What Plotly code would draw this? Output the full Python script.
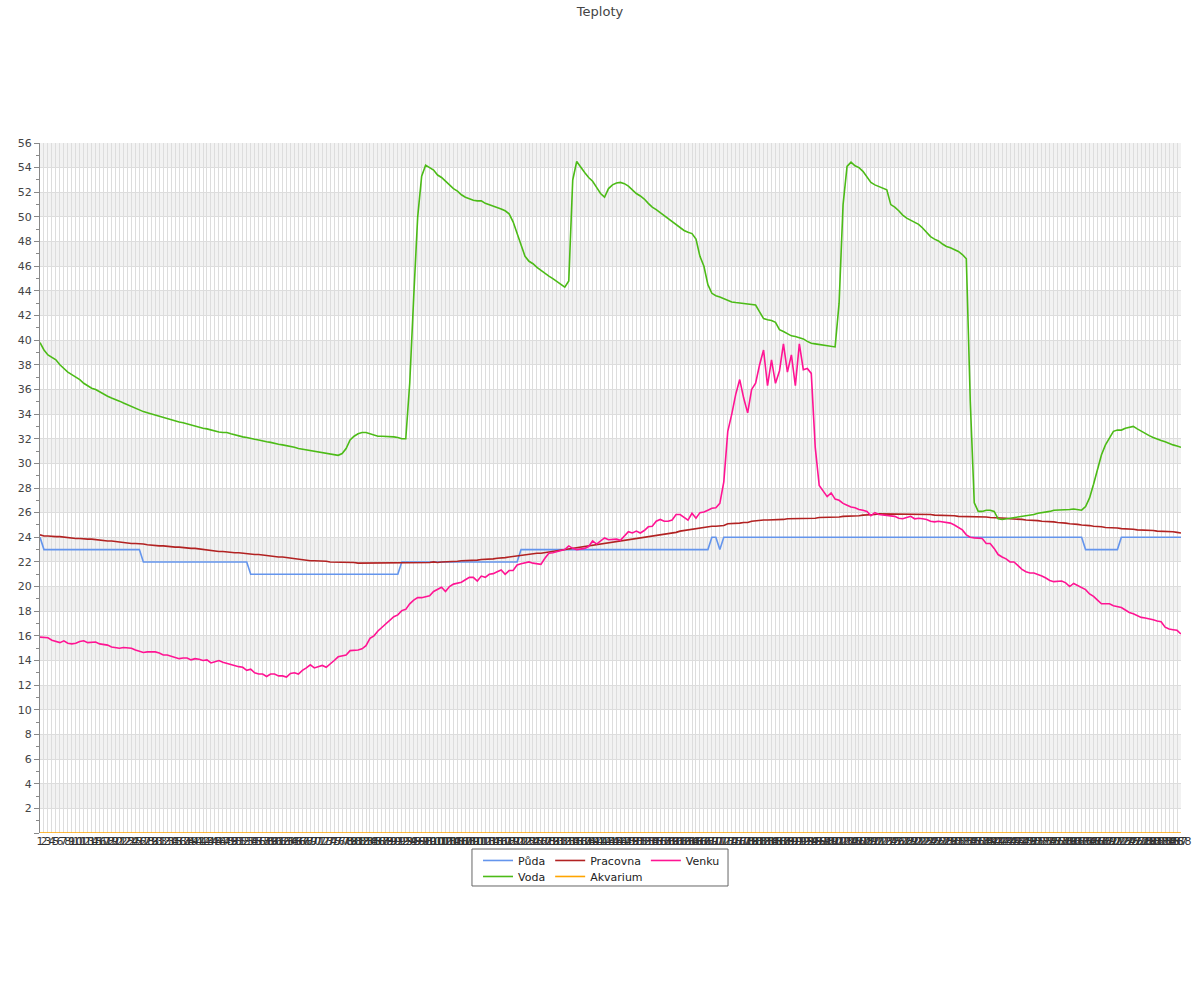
import plotly.graph_objects as go

# ---------------- data ----------------
N_POINTS = 288
CATEGORIES = [str(i) for i in range(1, N_POINTS + 1)]

PUDA = [
    24, 23, 23, 23, 23, 23, 23, 23, 23, 23,
    23, 23, 23, 23, 23, 23, 23, 23, 23, 23,
    23, 23, 23, 23, 23, 23, 22, 22, 22, 22,
    22, 22, 22, 22, 22, 22, 22, 22, 22, 22,
    22, 22, 22, 22, 22, 22, 22, 22, 22, 22,
    22, 22, 22, 21, 21, 21, 21, 21, 21, 21,
    21, 21, 21, 21, 21, 21, 21, 21, 21, 21,
    21, 21, 21, 21, 21, 21, 21, 21, 21, 21,
    21, 21, 21, 21, 21, 21, 21, 21, 21, 21,
    21, 22, 22, 22, 22, 22, 22, 22, 22, 22,
    22, 22, 22, 22, 22, 22, 22, 22, 22, 22,
    22, 22, 22, 22, 22, 22, 22, 22, 22, 22,
    22, 23, 23, 23, 23, 23, 23, 23, 23, 23,
    23, 23, 23, 23, 23, 23, 23, 23, 23, 23,
    23, 23, 23, 23, 23, 23, 23, 23, 23, 23,
    23, 23, 23, 23, 23, 23, 23, 23, 23, 23,
    23, 23, 23, 23, 23, 23, 23, 23, 23, 24,
    24, 23, 24, 24, 24, 24, 24, 24, 24, 24,
    24, 24, 24, 24, 24, 24, 24, 24, 24, 24,
    24, 24, 24, 24, 24, 24, 24, 24, 24, 24,
    24, 24, 24, 24, 24, 24, 24, 24, 24, 24,
    24, 24, 24, 24, 24, 24, 24, 24, 24, 24,
    24, 24, 24, 24, 24, 24, 24, 24, 24, 24,
    24, 24, 24, 24, 24, 24, 24, 24, 24, 24,
    24, 24, 24, 24, 24, 24, 24, 24, 24, 24,
    24, 24, 24, 24, 24, 24, 24, 24, 24, 24,
    24, 24, 24, 23, 23, 23, 23, 23, 23, 23,
    23, 23, 24, 24, 24, 24, 24, 24, 24, 24,
    24, 24, 24, 24, 24, 24, 24, 24,
]

PRACOVNA = [
    24.2, 24.1, 24.1, 24.05, 24.05, 24.05, 24.0, 24.0, 23.95, 23.9,
    23.9, 23.85, 23.85, 23.85, 23.8, 23.8, 23.75, 23.7, 23.7, 23.65,
    23.6, 23.6, 23.55, 23.5, 23.5, 23.5, 23.45, 23.4, 23.35, 23.3,
    23.3, 23.3, 23.25, 23.2, 23.2, 23.2, 23.15, 23.15, 23.1, 23.1,
    23.05, 23.0, 23.0, 22.95, 22.9, 22.85, 22.85, 22.8, 22.8, 22.75,
    22.75, 22.7, 22.7, 22.65, 22.6, 22.6, 22.55, 22.5, 22.45, 22.4,
    22.4, 22.4, 22.35, 22.3, 22.25, 22.2, 22.2, 22.15, 22.1, 22.1,
    22.1, 22.05, 22.05, 22.0, 22.0, 22.0, 22.0, 21.95, 21.95, 21.95,
    21.9, 21.9, 21.9, 21.9, 21.9, 21.9, 21.9, 21.9, 21.9, 21.9,
    21.9, 21.9, 21.9, 21.9, 21.9, 21.9, 21.9, 21.95, 21.95, 22.0,
    21.95, 22.0, 22.0, 22.0, 22.05, 22.05, 22.1, 22.1, 22.15, 22.15,
    22.15, 22.2, 22.2, 22.2, 22.25, 22.3, 22.3, 22.35, 22.4, 22.45,
    22.45, 22.5, 22.55, 22.6, 22.65, 22.7, 22.7, 22.75, 22.8, 22.85,
    22.9, 22.95, 23.0, 23.05, 23.1, 23.15, 23.2, 23.25, 23.3, 23.35,
    23.4, 23.45, 23.5, 23.55, 23.6, 23.65, 23.7, 23.75, 23.8, 23.85,
    23.9, 23.95, 24.0, 24.05, 24.1, 24.15, 24.2, 24.25, 24.3, 24.35,
    24.4, 24.5, 24.55, 24.6, 24.7, 24.75, 24.8, 24.85, 24.85, 24.9,
    24.9, 24.95, 24.95, 25.1, 25.1, 25.1, 25.15, 25.2, 25.2, 25.3,
    25.35, 25.35, 25.4, 25.4, 25.4, 25.4, 25.45, 25.45, 25.5, 25.5,
    25.5, 25.5, 25.5, 25.5, 25.55, 25.55, 25.6, 25.6, 25.6, 25.65,
    25.65, 25.65, 25.7, 25.7, 25.7, 25.75, 25.75, 25.8, 25.8, 25.85,
    25.85, 25.9, 25.9, 25.9, 25.9, 25.9, 25.9, 25.9, 25.9, 25.9,
    25.9, 25.9, 25.85, 25.85, 25.85, 25.8, 25.8, 25.8, 25.75, 25.75,
    25.75, 25.7, 25.7, 25.7, 25.7, 25.7, 25.65, 25.65, 25.65, 25.6,
    25.6, 25.6, 25.55, 25.55, 25.5, 25.5, 25.45, 25.45, 25.4, 25.4,
    25.35, 25.35, 25.3, 25.3, 25.3, 25.25, 25.2, 25.2, 25.15, 25.1,
    25.1, 25.05, 25.0, 25.0, 24.95, 24.9, 24.9, 24.85, 24.8, 24.8,
    24.75, 24.75, 24.7, 24.7, 24.65, 24.65, 24.6, 24.6, 24.55, 24.55,
    24.55, 24.5, 24.5, 24.5, 24.45, 24.45, 24.4, 24.35,
]

VENKU = [
    15.9, 15.9, 15.85, 15.65, 15.55, 15.45, 15.6, 15.4, 15.35, 15.4,
    15.55, 15.6, 15.45, 15.5, 15.5, 15.35, 15.3, 15.25, 15.1, 15.05,
    15.0, 15.05, 15.0, 15.0, 14.85, 14.75, 14.65, 14.7, 14.7, 14.7,
    14.6, 14.45, 14.45, 14.35, 14.25, 14.15, 14.2, 14.2, 14.05, 14.15,
    14.1, 14.0, 14.05, 13.8, 13.9, 14.0, 13.85, 13.75, 13.65, 13.6,
    13.5, 13.45, 13.2, 13.3, 13.0, 12.9, 12.9, 12.7, 12.9, 12.9,
    12.75, 12.75, 12.65, 12.95, 13.0, 12.9, 13.2, 13.4, 13.65, 13.4,
    13.5, 13.6, 13.45, 13.7, 14.0, 14.3, 14.4, 14.45, 14.8, 14.8,
    14.85, 14.95, 15.2, 15.8, 16.0, 16.4, 16.7, 16.95, 17.3, 17.55,
    17.7, 18.05, 18.15, 18.6, 18.9, 19.1, 19.1, 19.2, 19.25, 19.6,
    19.8, 19.95, 19.6, 20.0, 20.2, 20.3, 20.35, 20.55, 20.75, 20.75,
    20.45, 20.85, 20.75, 21.0, 21.05, 21.2, 21.35, 21.0, 21.3, 21.3,
    21.75, 21.85, 21.9, 22.0, 21.9, 21.85, 21.8, 22.3, 22.7, 22.75,
    22.85, 22.9, 23.0, 23.3, 23.1, 23.0, 23.05, 23.1, 23.25, 23.7,
    23.45, 23.7, 23.95, 23.8, 23.8, 23.85, 23.75, 24.1, 24.45, 24.35,
    24.5, 24.35, 24.55, 24.85, 24.9, 25.3, 25.45, 25.3, 25.3, 25.4,
    25.85, 25.85, 25.65, 25.4, 25.95, 25.55, 26.0, 26.05, 26.2, 26.35,
    26.4, 26.75, 28.5, 32.6, 34.0, 35.6, 36.8, 35.3, 34.1, 36.0,
    36.5, 38.0, 39.2, 36.3, 38.4, 36.5, 37.5, 39.7, 37.4, 38.8,
    36.3, 39.7, 37.6, 37.7, 37.3, 31.3, 28.2, 27.75, 27.3, 27.6,
    27.1, 27.0, 26.75, 26.6, 26.45, 26.4, 26.25, 26.2, 26.1, 25.75,
    26.0, 25.85, 25.8, 25.8, 25.7, 25.7, 25.55, 25.5, 25.6, 25.7,
    25.5, 25.55, 25.5, 25.45, 25.3, 25.25, 25.3, 25.25, 25.2, 25.15,
    25.0, 24.8, 24.6, 24.2, 24.0, 23.95, 23.95, 23.9, 23.5, 23.5,
    23.1, 22.6, 22.4, 22.25, 22.0, 22.0, 21.7, 21.4, 21.2, 21.1,
    21.1, 21.0, 20.85, 20.7, 20.5, 20.4, 20.4, 20.45, 20.3, 20.0,
    20.25, 20.1, 19.95, 19.75, 19.4, 19.2, 18.9, 18.6, 18.6, 18.6,
    18.45, 18.35, 18.3, 18.1, 17.9, 17.8, 17.65, 17.5, 17.45, 17.4,
    17.3, 17.2, 17.15, 16.7, 16.55, 16.5, 16.45, 16.15,
]

VODA = [
    39.8, 39.2, 38.8, 38.6, 38.4, 38.0, 37.7, 37.4, 37.2, 37.0,
    36.8, 36.5, 36.3, 36.1, 36.0, 35.8, 35.6, 35.45, 35.3, 35.2,
    35.05, 34.9, 34.75, 34.6, 34.5, 34.35, 34.2, 34.1, 34.0, 33.9,
    33.8, 33.7, 33.6, 33.5, 33.45, 33.35, 33.3, 33.2, 33.1, 33.0,
    32.95, 32.85, 32.8, 32.7, 32.6, 32.55, 32.5, 32.5, 32.4, 32.3,
    32.2, 32.15, 32.1, 32.0, 31.95, 31.9, 31.8, 31.75, 31.7, 31.6,
    31.55, 31.5, 31.45, 31.4, 31.3, 31.2, 31.15, 31.1, 31.05, 31.0,
    30.95, 30.9, 30.85, 30.8, 30.7, 30.65, 30.8, 31.2, 31.9, 32.2,
    32.4, 32.5, 32.5, 32.4, 32.25, 32.2, 32.2, 32.2, 32.15, 32.15,
    32.1, 32.0, 32.0, 36.5, 43.5, 50.0, 53.3, 54.2, 54.0, 53.8,
    53.4, 53.2, 52.9, 52.6, 52.3, 52.1, 51.8, 51.6, 51.45, 51.35,
    51.3, 51.3, 51.1, 51.0, 50.9, 50.8, 50.65, 50.5, 50.25, 49.6,
    48.7, 47.7, 46.8, 46.4, 46.2, 45.9, 45.65, 45.45, 45.2, 45.0,
    44.75, 44.5, 44.3, 44.8, 53.0, 54.5, 54.0, 53.6, 53.2, 52.9,
    52.4, 51.9, 51.6, 52.3, 52.6, 52.75, 52.8, 52.7, 52.5, 52.2,
    51.9, 51.7, 51.45, 51.1, 50.8, 50.6, 50.35, 50.1, 49.85, 49.6,
    49.35, 49.1, 48.9, 48.75, 48.65, 48.2, 46.8, 46.0, 44.5, 43.8,
    43.6, 43.5, 43.35, 43.2, 43.1, 43.05, 43.0, 42.95, 42.9, 42.85,
    42.85, 42.3, 41.75, 41.65, 41.6, 41.45, 40.85, 40.7, 40.5, 40.35,
    40.3, 40.2, 40.1, 39.9, 39.75, 39.7, 39.65, 39.6, 39.55, 39.5,
    39.45, 43.0, 51.0, 54.1, 54.45, 54.15, 54.0, 53.7, 53.2, 52.8,
    52.6, 52.45, 52.35, 52.2, 51.0, 50.8, 50.5, 50.15, 49.9, 49.75,
    49.55, 49.4, 49.1, 48.75, 48.4, 48.2, 48.05, 47.8, 47.6, 47.5,
    47.35, 47.2, 46.95, 46.6, 35.0, 26.8, 26.1, 26.1, 26.2, 26.2,
    26.1, 25.5, 25.45, 25.5, 25.5, 25.55, 25.6, 25.65, 25.7, 25.8,
    25.85, 25.95, 26.0, 26.0, 26.1, 26.2, 26.2, 26.2, 26.25, 26.25,
    26.3, 26.25, 26.2, 26.5, 27.2, 28.3, 29.6, 30.7, 31.5, 32.1,
    32.6, 32.7, 32.7, 32.85, 32.95, 33.0, 32.8, 32.6, 32.4, 32.25,
    32.1, 31.95, 31.85, 31.75, 31.6, 31.5, 31.4, 31.3,
]

AKVARIUM = [
    0, 0, 0, 0, 0, 0, 0, 0, 0, 0, 0, 0, 0, 0, 0, 0, 0, 0, 0, 0, 0, 0, 0, 0,
    0, 0, 0, 0, 0, 0, 0, 0, 0, 0, 0, 0, 0, 0, 0, 0, 0, 0, 0, 0, 0, 0, 0, 0,
    0, 0, 0, 0, 0, 0, 0, 0, 0, 0, 0, 0, 0, 0, 0, 0, 0, 0, 0, 0, 0, 0, 0, 0,
    0, 0, 0, 0, 0, 0, 0, 0, 0, 0, 0, 0, 0, 0, 0, 0, 0, 0, 0, 0, 0, 0, 0, 0,
    0, 0, 0, 0, 0, 0, 0, 0, 0, 0, 0, 0, 0, 0, 0, 0, 0, 0, 0, 0, 0, 0, 0, 0,
    0, 0, 0, 0, 0, 0, 0, 0, 0, 0, 0, 0, 0, 0, 0, 0, 0, 0, 0, 0, 0, 0, 0, 0,
    0, 0, 0, 0, 0, 0, 0, 0, 0, 0, 0, 0, 0, 0, 0, 0, 0, 0, 0, 0, 0, 0, 0, 0,
    0, 0, 0, 0, 0, 0, 0, 0, 0, 0, 0, 0, 0, 0, 0, 0, 0, 0, 0, 0, 0, 0, 0, 0,
    0, 0, 0, 0, 0, 0, 0, 0, 0, 0, 0, 0, 0, 0, 0, 0, 0, 0, 0, 0, 0, 0, 0, 0,
    0, 0, 0, 0, 0, 0, 0, 0, 0, 0, 0, 0, 0, 0, 0, 0, 0, 0, 0, 0, 0, 0, 0, 0,
    0, 0, 0, 0, 0, 0, 0, 0, 0, 0, 0, 0, 0, 0, 0, 0, 0, 0, 0, 0, 0, 0, 0, 0,
    0, 0, 0, 0, 0, 0, 0, 0, 0, 0, 0, 0, 0, 0, 0, 0, 0, 0, 0, 0, 0, 0, 0, 0,
]

Y_TICKS = [0, 2, 4, 6, 8, 10, 12, 14, 16, 18, 20, 22, 24, 26, 28,
           30, 32, 34, 36, 38, 40, 42, 44, 46, 48, 50, 52, 54, 56]
Y_TICK_TEXT = ["" if v == 0 else str(v) for v in Y_TICKS]
Y_MINOR = [v + 1 for v in Y_TICKS[:-1]]

# ---------------- figure ----------------
FONT = "DejaVu Sans, Verdana, sans-serif"
fig = go.Figure()

series = [
    ("Půda", PUDA, "#6495ED", "legend"),
    ("Pracovna", PRACOVNA, "#B22222", "legend"),
    ("Venku", VENKU, "#FF1493", "legend"),
    ("Voda", VODA, "#4CBB17", "legend2"),
    ("Akvarium", AKVARIUM, "#FFA500", "legend2"),
]
for name, vals, color, leg in series:
    fig.add_trace(go.Scatter(
        x=CATEGORIES[:len(vals)], y=vals, name=name, mode="lines",
        line=dict(color=color, width=1.6), legend=leg,
        hoverinfo="x+y+name",
    ))

# alternating horizontal bands
shapes = []
for lo in Y_TICKS[1:-1:2]:
    shapes.append(dict(type="rect", xref="paper", yref="y", x0=0, x1=1,
                       y0=lo, y1=lo + 2, fillcolor="#f2f2f2",
                       line=dict(width=0), layer="below"))
# legend frame
shapes.append(dict(type="rect", xref="paper", yref="paper",
                   x0=0.3786, x1=0.603, y0=-0.0768, y1=-0.0232,
                   line=dict(color="#666666", width=1), fillcolor="rgba(0,0,0,0)",
                   layer="above"))

fig.update_layout(
    width=1200, height=1000,
    margin=dict(l=40, r=19, t=143, b=167, autoexpand=False),
    paper_bgcolor="white", plot_bgcolor="white",
    font=dict(family=FONT, size=11, color="#444444"),
    title=dict(text="Teploty", x=0.5, xanchor="center", y=0.989, yanchor="middle",
               yref="container", font=dict(family=FONT, size=13, color="#444444")),
    shapes=shapes,
    showlegend=True,
    legend=dict(orientation="h", x=0.3839, xanchor="left", y=-0.0188, yanchor="top",
                font=dict(family=FONT, size=11, color="#222222"),
                bgcolor="rgba(0,0,0,0)", borderwidth=0, tracegroupgap=0),
    legend2=dict(orientation="h", x=0.3839, xanchor="left", y=-0.042, yanchor="top",
                 font=dict(family=FONT, size=11, color="#222222"),
                 bgcolor="rgba(0,0,0,0)", borderwidth=0),
)

fig.update_xaxes(
    type="category", range=[0, N_POINTS - 1],
    tickmode="array", tickvals=CATEGORIES, ticktext=CATEGORIES,
    tickangle=0, ticks="", showgrid=True, gridcolor="#dddddd", gridwidth=1,
    showline=False, zeroline=False,
    tickfont=dict(family=FONT, size=11, color="#333333"),
)
fig.update_yaxes(
    range=[0, 56], tickmode="array", tickvals=Y_TICKS, ticktext=Y_TICK_TEXT,
    ticks="outside", ticklen=5, tickcolor="#888888",
    showgrid=True, gridcolor="#dddddd", gridwidth=1,
    showline=True, linecolor="#888888", linewidth=1, zeroline=False,
    minor=dict(tickmode="array", tickvals=Y_MINOR, ticks="outside", ticklen=3,
               tickcolor="#888888", showgrid=False),
    tickfont=dict(family=FONT, size=11, color="#444444"),
)

fig.write_html("out.html", config={"displayModeBar": False},
               post_script="document.body.style.margin='0px';")
